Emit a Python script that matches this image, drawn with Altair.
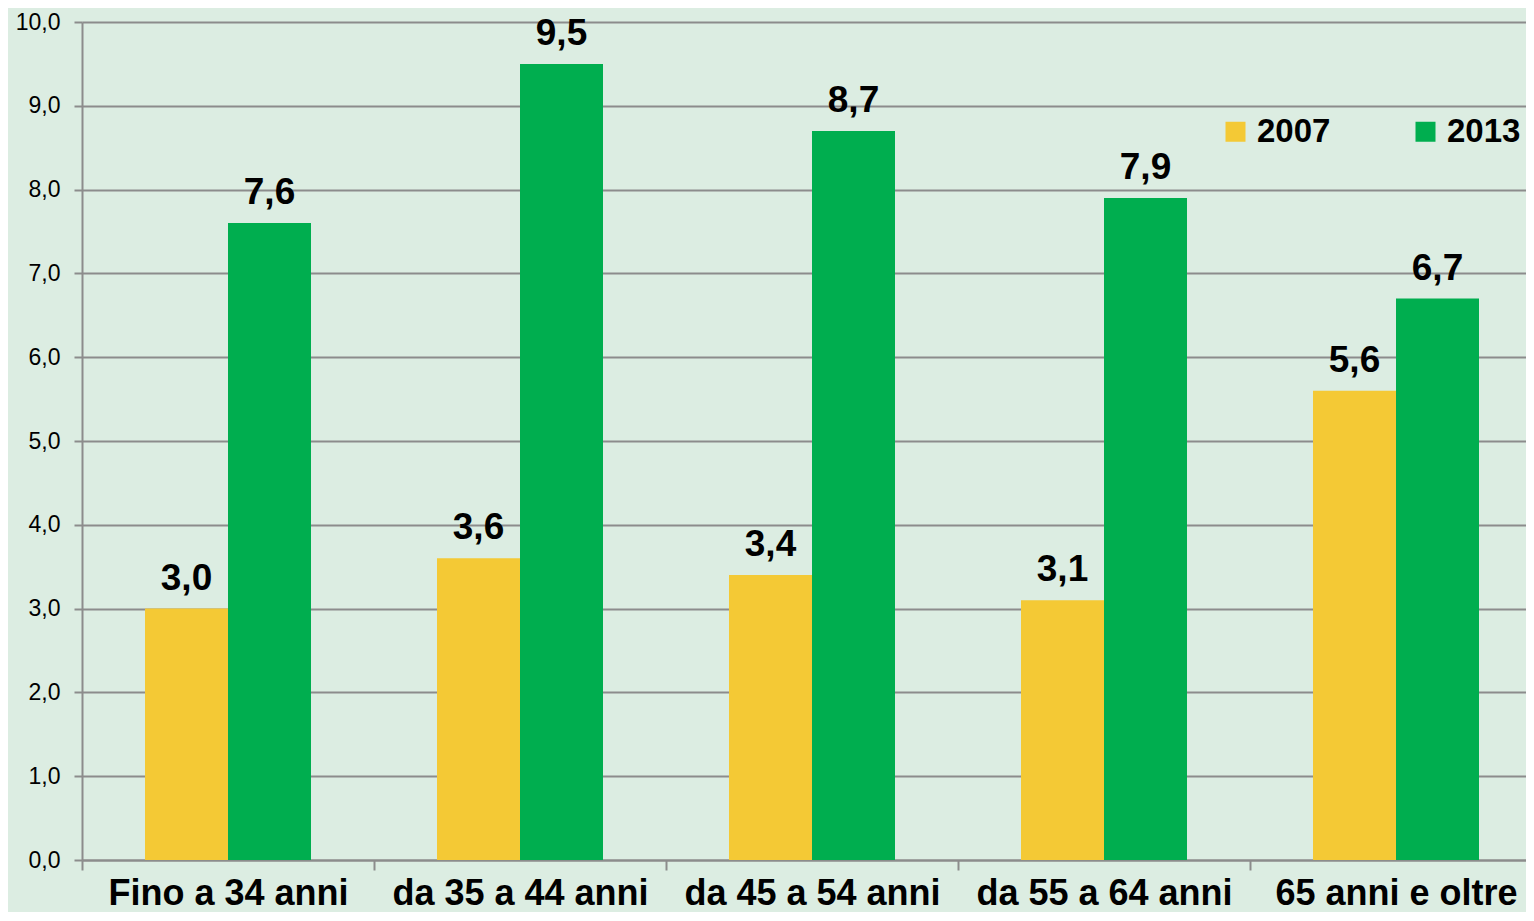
import altair as alt
import pandas as pd

categories = ["Fino a 34 anni", "da 35 a 44 anni", "da 45 a 54 anni", "da 55 a 64 anni", "65 anni e oltre"]
years = ["2007", "2013"]
v2007 = [3.0, 3.6, 3.4, 3.1, 5.6]
v2013 = [7.6, 9.5, 8.7, 7.9, 6.7]
y_ticks = [0, 1, 2, 3, 4, 5, 6, 7, 8, 9, 10]

rows = []
for c, a, b in zip(categories, v2007, v2013):
    rows.append({"cat": c, "year": "2007", "value": a})
    rows.append({"cat": c, "year": "2013", "value": b})
df = pd.DataFrame(rows)

GREY = "#8c8c8c"
FONT = "Liberation Sans"

x = alt.X("cat:N", sort=categories,
          scale=alt.Scale(paddingInner=0, paddingOuter=0),
          axis=alt.Axis(title=None, labelAngle=0, tickBand="extent", grid=False,
                        labelFontSize=36, labelFontWeight="bold", labelColor="black",
                        labelFont=FONT, labelPadding=6, tickSize=10, tickWidth=2,
                        tickColor=GREY, domainColor=GREY, domainWidth=2, labelLimit=400))
xo = alt.XOffset("year:N", sort=years, scale=alt.Scale(paddingInner=0, paddingOuter=0.759))
y = alt.Y("value:Q", scale=alt.Scale(domain=[0, 10], nice=False),
          axis=alt.Axis(title=None, values=y_ticks, grid=True, gridColor=GREY, gridWidth=2,
                        domainColor=GREY, domainWidth=2, tickColor=GREY, tickWidth=2, tickSize=8,
                        labelFontSize=23, labelColor="black", labelFont=FONT, labelPadding=14,
                        labelExpr="replace(format(datum.value, '.1f'), '.', ',')"))

color = alt.Color("year:N", sort=years,
                  scale=alt.Scale(domain=years, range=["#f4c935", "#00ae4f"]),
                  legend=alt.Legend(title=None, orient="none", legendX=1137, legendY=93,
                                    direction="horizontal", columns=2, symbolType="square",
                                    symbolSize=400, symbolStrokeWidth=0, labelFontSize=33,
                                    labelFontWeight="bold", labelFont=FONT, labelColor="black",
                                    labelOffset=5, columnPadding=78, padding=0))

bars = alt.Chart(df).mark_bar(size=83).encode(x=x, xOffset=xo, y=y, color=color)
labels = alt.Chart(df).transform_calculate(
    lbl="replace(format(datum.value, '.1f'), '.', ',')"
).mark_text(font=FONT, fontSize=37, fontWeight="bold", color="black",
            baseline="alphabetic", dy=-19).encode(x=x, xOffset=xo, y=y, text="lbl:N")

chart = alt.layer(bars, labels).properties(
    width=1460, height=838,
    autosize=alt.AutoSizeParams(type="none"),
    padding={"left": 74, "top": 14, "right": -16, "bottom": 52},
    background="#dcede2",
).configure_view(strokeWidth=0)

chart.save("out.html", embed_options={"renderer": "svg", "actions": False})
